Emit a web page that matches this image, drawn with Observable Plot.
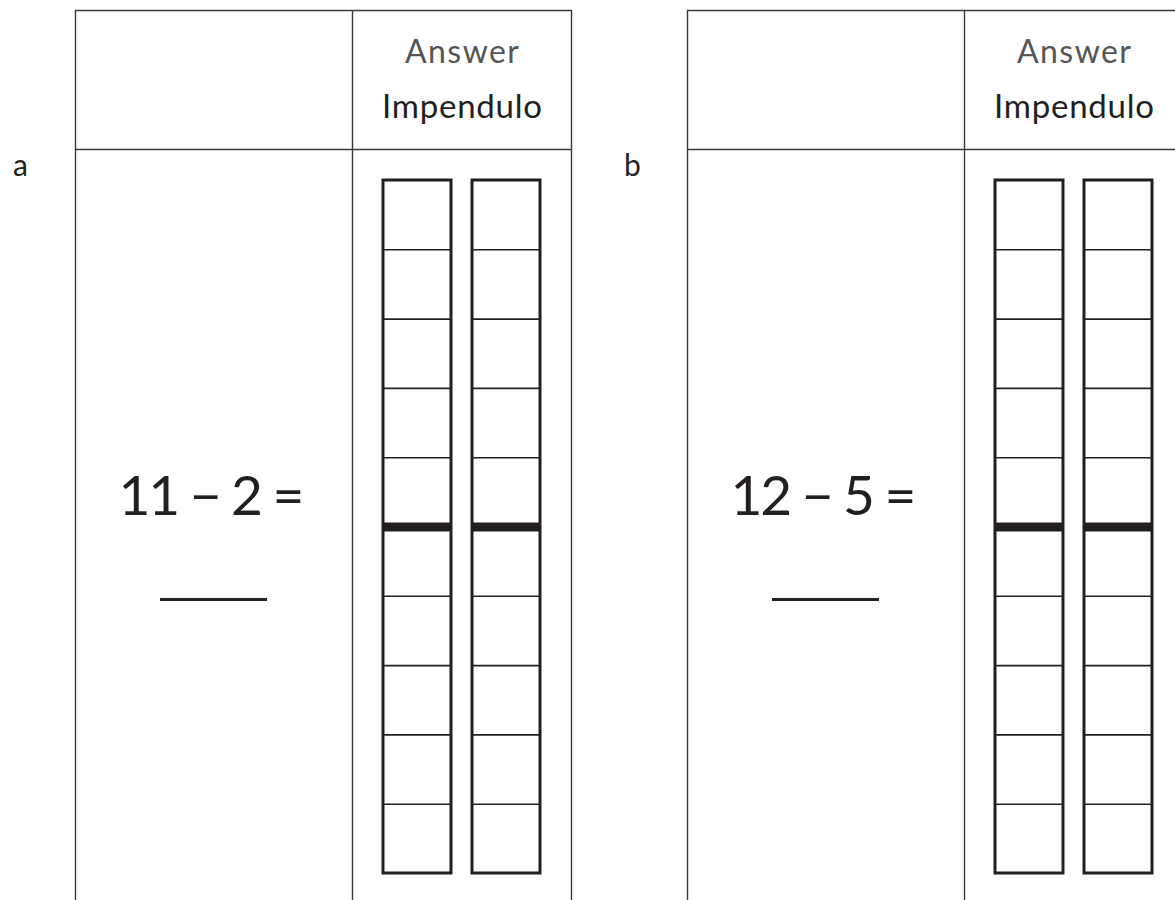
<!DOCTYPE html>
<html>
<head>
<meta charset="utf-8">
<script src="https://cdn.jsdelivr.net/npm/d3@7"></script>
<script src="https://cdn.jsdelivr.net/npm/@observablehq/plot@0.6"></script>
<style>
  html, body { margin: 0; padding: 0; background: #fff; }
  #chart svg { display: block; }
</style>
</head>
<body>
<div id="chart"></div>
<script>
// ---- content ----
const panels = ["a", "b"];
const equations = ["11 − 2 =", "12 − 5 ="];
const headerLine1 = "Answer";
const headerLine2 = "Impendulo";
const columns = ["tens", "units"];
const cellRows = [1, 2, 3, 4, 5, 6, 7, 8, 9, 10];
const thickAfterRow = 5;

// ---- layout (page coordinates) ----
const L = {
  W: 1175, H: 900,
  panelOffset: 612,
  tableLeft: 75, divider: 352, tableRight: 571,
  top: 10, headerBottom: 149,
  labelX: 20, labelY: 175,
  boxLefts: [383, 472], boxWidth: 68, boxTop: 180, cellH: 69.3,
  eqX: 211, eqY: 514, eqLen: 186,
  blankX1: 160, blankX2: 267, blankY: 599,
  h1Y: 62, h2Y: 117, h1Len: 114, h2Len: 160
};

const pIdx = panels.map((p, i) => i);
const off = i => i * L.panelOffset;

const vLines = pIdx.flatMap(i => [L.tableLeft, L.divider, L.tableRight].map(x => ({x: x + off(i)})));
const hLines = pIdx.flatMap(i => [L.top, L.headerBottom].map(y => ({y, x1: L.tableLeft + off(i), x2: L.tableRight + off(i)})));
const boxes = pIdx.flatMap(i => columns.map((c, j) => ({
  x1: L.boxLefts[j] + off(i), x2: L.boxLefts[j] + L.boxWidth + off(i),
  y1: L.boxTop, y2: L.boxTop + cellRows.length * L.cellH
})));
const rowLines = boxes.flatMap(b => cellRows.slice(0, -1).map(r => ({x1: b.x1, x2: b.x2, y: L.boxTop + r * L.cellH, thick: r === thickAfterRow})));
const labels = pIdx.map(i => ({text: panels[i], x: L.labelX + off(i), y: L.labelY}));
const eqs = pIdx.map(i => ({text: equations[i], x: L.eqX + off(i), y: L.eqY}));
const blanks = pIdx.map(i => ({x1: L.blankX1 + off(i), x2: L.blankX2 + off(i), y: L.blankY}));
const headerX = i => (L.divider + L.tableRight) / 2 + off(i);
const h1 = pIdx.map(i => ({text: headerLine1, x: headerX(i), y: L.h1Y}));
const h2 = pIdx.map(i => ({text: headerLine2, x: headerX(i), y: L.h2Y}));

const font = "Lato, 'Open Sans', sans-serif";

const chart = Plot.plot({
  width: L.W, height: L.H,
  margin: 0,
  x: {domain: [0, L.W], range: [0, L.W], axis: null},
  y: {domain: [0, L.H], range: [0, L.H], axis: null},
  style: {background: "#fff", fontFamily: font},
  marks: [
    Plot.ruleX(vLines, {x: "x", y1: L.top, y2: L.H, stroke: "#3a3a3a", strokeWidth: 1.4}),
    Plot.ruleY(hLines, {y: "y", x1: "x1", x2: "x2", stroke: "#3a3a3a", strokeWidth: 1.4}),
    Plot.ruleY(rowLines.filter(d => !d.thick), {y: "y", x1: "x1", x2: "x2", stroke: "#231f20", strokeWidth: 1.6}),
    Plot.ruleY(rowLines.filter(d => d.thick), {y: "y", x1: "x1", x2: "x2", stroke: "#231f20", strokeWidth: 9}),
    Plot.rect(boxes, {x1: "x1", x2: "x2", y1: "y1", y2: "y2", fill: "none", stroke: "#231f20", strokeWidth: 3}),
    Plot.ruleY(blanks, {y: "y", x1: "x1", x2: "x2", stroke: "#231f20", strokeWidth: 3}),
    Plot.text(labels, {x: "x", y: "y", text: "text", fontSize: 30, lineAnchor: "bottom", textAnchor: "middle", fill: "#231f20", fontFamily: font}),
    Plot.text(h1, {x: "x", y: "y", text: "text", fontSize: 32, lineAnchor: "bottom", textAnchor: "middle", fill: "#555", fontFamily: font, className: "h1"}),
    Plot.text(h2, {x: "x", y: "y", text: "text", fontSize: 33, lineAnchor: "bottom", textAnchor: "middle", fill: "#231f20", fontFamily: font, className: "h2"}),
    Plot.text(eqs, {x: "x", y: "y", text: "text", fontSize: 55, lineAnchor: "bottom", textAnchor: "middle", fill: "#231f20", fontFamily: font, fontWeight: 400, className: "eq"})
  ]
});
const svg = d3.select(chart);
svg.selectAll(".h1 text").attr("textLength", L.h1Len).attr("lengthAdjust", "spacing");
svg.selectAll(".h2 text").attr("textLength", L.h2Len).attr("lengthAdjust", "spacing");
svg.selectAll(".eq text").attr("textLength", L.eqLen).attr("lengthAdjust", "spacing");
document.getElementById("chart").appendChild(chart);
</script>
</body>
</html>
